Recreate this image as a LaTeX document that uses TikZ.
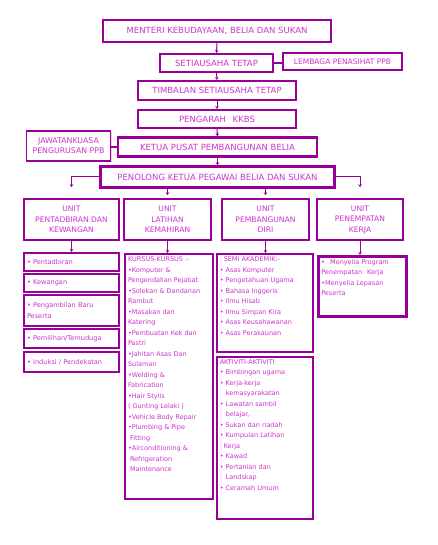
\documentclass[tikz,border=0pt]{standalone}
\usepackage{fontspec}
\setmainfont{DejaVu Sans}
\usetikzlibrary{arrows.meta,shadows}
\definecolor{garis}{RGB}{153,0,153}
\definecolor{tulisan}{RGB}{204,51,204}
\definecolor{bayang}{RGB}{214,160,214}
\newcommand{\isikotak}[3]{\parbox[t][#1][t]{#2}{\raggedright #3}}

\begin{document}
\begin{tikzpicture}[x=1pt,y=-1pt,
  kotak/.style={draw=garis,line width=2pt,fill=white,text=tulisan,align=center,inner sep=1pt,
    font=\fontsize{8.5}{10.5}\selectfont,
    drop shadow={shadow xshift=1.2pt,shadow yshift=-1.2pt,fill=bayang}},
  unit/.style={kotak,line width=1.5pt,minimum width=#1,minimum height=41pt,font=\fontsize{7.6}{10.5}\selectfont},
  butir/.style={kotak,minimum width=95pt,text width=89pt,align=left,font=\fontsize{6.6}{10.5}\selectfont},
  senarai/.style={kotak,anchor=north west,inner sep=3pt,font=\fontsize{6.5}{10.5}\selectfont},
  panah/.style={draw=garis,line width=1pt,-{Stealth[length=3pt,width=3.5pt]}},
  garisan/.style={draw=garis,line width=1.5pt}]
\useasboundingbox (0,0) rectangle (438,545);

\node[kotak,line width=2.5pt,minimum width=228pt,minimum height=22pt] (menteri) at (217,31) {MENTERI KEBUDAYAAN, BELIA DAN SUKAN};
\node[kotak,minimum width=113pt,minimum height=18pt] (setia) at (216.5,63) {SETIAUSAHA TETAP};
\node[kotak,line width=1.5pt,minimum width=119pt,minimum height=17pt,font=\fontsize{7.5}{9}\selectfont] (lembaga) at (342.5,61.5) {LEMBAGA PENASIHAT PPB};
\node[kotak,minimum width=158pt,minimum height=19pt] (timbalan) at (217,90.5) {TIMBALAN SETIAUSAHA TETAP};
\node[kotak,minimum width=158pt,minimum height=18pt] (pengarah) at (217,119) {PENGARAH\hspace{4pt} KKBS};
\node[kotak,line width=1.5pt,minimum width=84pt,minimum height=30pt,font=\fontsize{7.8}{10}\selectfont] (jawatan) at (68.5,146) {JAWATANKUASA\\PENGURUSAN PPB};
\node[kotak,line width=2.5pt,minimum width=199pt,minimum height=19pt] (ketua) at (217.5,147) {KETUA PUSAT PEMBANGUNAN BELIA};
\node[kotak,line width=2.5pt,minimum width=234pt,minimum height=21pt] (penolong) at (217.5,177) {PENOLONG KETUA PEGAWAI BELIA DAN SUKAN};

\node[unit=95pt] (pentadbiran) at (71.5,219.5) {UNIT\\PENTADBIRAN DAN\\KEWANGAN};
\node[unit=87pt] (latihan) at (167.5,219.5) {UNIT\\LATIHAN\\KEMAHIRAN};
\node[unit=87pt] (diri) at (265.5,219.5) {UNIT\\PEMBANGUNAN\\DIRI};
\node[unit=86pt] (penempatan) at (360,219.5) {UNIT\\PENEMPATAN\\KERJA};

\node[butir,minimum height=18pt] (tadbir) at (71.5,262) {• Pentadbiran};
\node[butir,minimum height=18pt] (wang) at (71.5,283) {• Kewangan};
\node[butir,minimum height=31pt] (ambil) at (71.5,310.5) {• Pengambilan Baru\\Peserta};
\node[butir,minimum height=19pt] (pilih) at (71.5,338.5) {• Pemilihan/Temuduga};
\node[butir,minimum height=20pt] (induksi) at (71.5,362) {• Induksi / Pendekatan};

\node[senarai] (kursus) at (124,253) {\isikotak{239pt}{82pt}{KURSUS-KURSUS :-\\
•Komputer \&\\Pengendalian Pejabat\\•Solekan \& Dandanan\\Rambut\\•Masakan dan\\Katering\\
•Pembuatan Kek dan\\Pastri\\•Jahitan Asas Dan\\Sulaman\\•Welding \&\\Fabrication\\
•Hair Stylis\\( Gunting Lelaki )\\•Vehicle Body Repair\\•Plumbing \& Pipe\\\hspace*{2pt}Fitting\\
•Airconditioning \&\\\hspace*{2pt}Refrigeration\\\hspace*{2pt}Maintenance}};
\node[senarai,line width=1.5pt] (semi) at (216,253) {\isikotak{92pt}{90pt}{\hspace*{4pt}SEMI AKADEMIK:-\\
• Asas Komputer\\• Pengetahuan Ugama\\• Bahasa Inggeris\\• Ilmu Hisab\\• Ilmu Simpan Kira\\
• Asas Keusahawanan\\• Asas Perakaunan}};
\node[senarai,line width=1.5pt] (aktiviti) at (216,356) {\isikotak{156pt}{90pt}{AKTIVITI-AKTIVITI\\
• Bimbingan ugama\\• Kerja-kerja\\\hspace*{6pt}kemasyarakatan\\• Lawatan sambil\\\hspace*{6pt}belajar,\\
• Sukan dan riadah\\• Kumpulan Latihan\\\hspace*{4pt}Kerja\\• Kawad\\• Pertanian dan\\\hspace*{6pt}Landskap\\
• Ceramah Umum}};
\node[senarai,line width=2.5pt] (menyelia) at (317,255) {\isikotak{54pt}{82pt}{•\hspace{3pt} Menyelia Program\\
Penempatan\hspace{3pt} Kerja\\•Menyelia Lepasan\\Peserta}};

\draw[panah] (menteri) -- (setia);
\draw[panah] (setia) -- (timbalan);
\draw[panah] (timbalan) -- (pengarah);
\draw[panah] (pengarah) -- (ketua);
\draw[panah] (ketua) -- (penolong);
\draw[garisan] (setia.east) -- (setia.east -| lembaga.west);
\draw[garisan] (jawatan.east |- ketua.west) -- (ketua.west);
\draw[panah,shorten >=11pt] (penolong.west) -| (pentadbiran.north);
\draw[panah,shorten >=11pt] (penolong.east) -| (penempatan.north);
\draw[panah,shorten >=3pt] (penolong.south -| latihan.north) -- (latihan.north);
\draw[panah,shorten >=3pt] (penolong.south -| diri.north) -- (diri.north);
\draw[panah] (pentadbiran.south) -- (tadbir.north);
\draw[panah] (latihan.south) -- (latihan.south |- kursus.north);
\draw[panah] (diri.south) -- (diri.south |- semi.north);
\draw[panah] (penempatan.south) -- (penempatan.south |- menyelia.north);
\end{tikzpicture}
\end{document}
